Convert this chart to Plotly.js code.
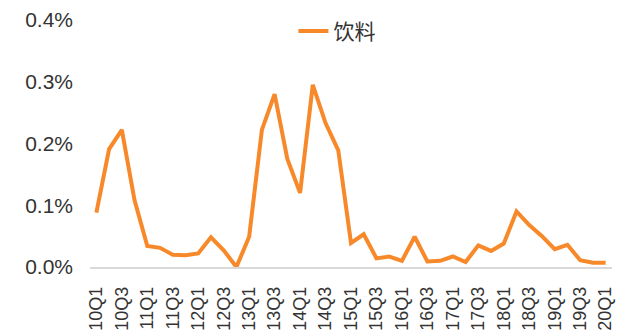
<!DOCTYPE html>
<html>
<head>
<meta charset="utf-8">
<script src="https://cdn.plot.ly/plotly-3.0.1.min.js"></script>
<style>
  html, body { margin: 0; padding: 0; background: #fff; }
  #chart { width: 624px; height: 336px; }
</style>
</head>
<body>
<div id="chart"></div>
<script>
// Quarterly periods, 2010Q1 to 2020Q1
const quarters = [
  '10Q1','10Q2','10Q3','10Q4',
  '11Q1','11Q2','11Q3','11Q4',
  '12Q1','12Q2','12Q3','12Q4',
  '13Q1','13Q2','13Q3','13Q4',
  '14Q1','14Q2','14Q3','14Q4',
  '15Q1','15Q2','15Q3','15Q4',
  '16Q1','16Q2','16Q3','16Q4',
  '17Q1','17Q2','17Q3','17Q4',
  '18Q1','18Q2','18Q3','18Q4',
  '19Q1','19Q2','19Q3','19Q4',
  '20Q1'
];

// Beverage share, in percent
const beverage = [
  0.088, 0.191, 0.222, 0.108,
  0.034, 0.031, 0.020, 0.019,
  0.022, 0.048, 0.027, 0.000,
  0.049, 0.222, 0.280, 0.175,
  0.120, 0.295, 0.233, 0.189,
  0.039, 0.053, 0.014, 0.017,
  0.010, 0.049, 0.009, 0.010,
  0.017, 0.008, 0.035, 0.026,
  0.038, 0.090, 0.068, 0.050,
  0.029, 0.036, 0.011, 0.007,
  0.007
];

// Every other quarter is labelled on the axis
const tickLabels = quarters.filter((q, i) => i % 2 === 0);

// Value-axis ticks (percent)
const yTicks = [0, 0.1, 0.2, 0.3, 0.4];
const yTickText = yTicks.map(v => v.toFixed(1) + '%');

const seriesName = '饮料';
const fontFamily = '"Liberation Sans", Arial, "Noto Sans CJK SC", sans-serif';

const trace = {
  type: 'scatter',
  mode: 'lines',
  x: quarters,
  y: beverage,
  name: seriesName,
  line: { color: '#F7892A', width: 4 },
  hoverinfo: 'x+y'
};

const layout = {
  width: 624,
  height: 336,
  margin: { l: 90, r: 12, t: 19, b: 69 },
  paper_bgcolor: '#ffffff',
  plot_bgcolor: '#ffffff',
  font: { family: fontFamily, color: '#333333' },
  showlegend: true,
  legend: {
    orientation: 'h',
    x: 0.473, xanchor: 'center',
    y: 0.95, yanchor: 'middle',
    font: { size: 21, color: '#333333' },
    bgcolor: 'rgba(0,0,0,0)'
  },
  xaxis: {
    type: 'category',
    categoryorder: 'array',
    categoryarray: quarters,
    range: [-0.5, quarters.length - 0.5],
    tickmode: 'array',
    tickvals: tickLabels,
    ticktext: tickLabels,
    tickangle: -90,
    tickfont: { size: 18, color: '#333333' },
    ticklabelstandoff: 11,
    showgrid: false,
    showline: true,
    linecolor: '#D9D9D9',
    linewidth: 1.5,
    ticks: '',
    zeroline: false
  },
  yaxis: {
    range: [0, 0.4],
    tickmode: 'array',
    tickvals: yTicks,
    ticktext: yTickText,
    tickfont: { size: 21, color: '#333333' },
    showgrid: false,
    showline: false,
    zeroline: false,
    ticks: '',
    ticklabelstandoff: 16
  }
};

Plotly.newPlot('chart', [trace], layout, { displayModeBar: false, staticPlot: true });
</script>
</body>
</html>
